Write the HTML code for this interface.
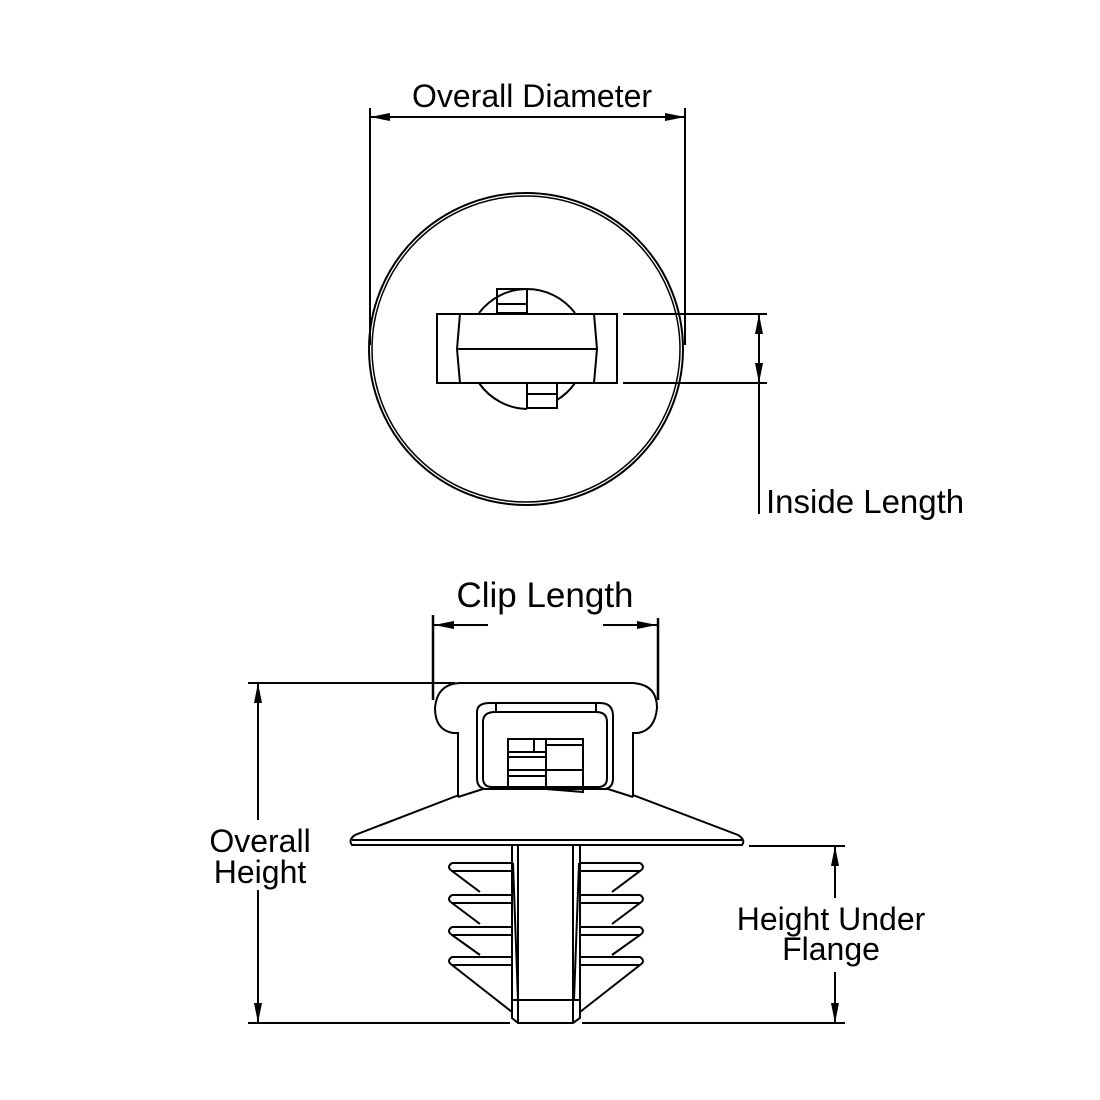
<!DOCTYPE html>
<html><head><meta charset="utf-8"><style>
html,body{margin:0;padding:0;background:#fff;}
svg{display:block;}
text{font-family:"Liberation Sans",sans-serif;fill:#000;}
</style></head><body>
<svg width="1100" height="1100" viewBox="0 0 1100 1100" xmlns="http://www.w3.org/2000/svg">
<defs>
<marker id="a" viewBox="0 0 20 8" refX="20" refY="4" markerWidth="20" markerHeight="8" markerUnits="userSpaceOnUse" orient="auto-start-reverse">
<path d="M0,0 L20,4 L0,8 Z" fill="#000"/>
</marker>
</defs>
<g fill="none" stroke="#000" stroke-width="2">
<line x1="370" y1="108" x2="370" y2="345"/>
<line x1="685" y1="108" x2="685" y2="345"/>
<line x1="370" y1="117" x2="685" y2="117" marker-start="url(#a)" marker-end="url(#a)"/>
<ellipse cx="526" cy="349" rx="157" ry="156"/>
<ellipse cx="526" cy="349" rx="154" ry="153" stroke-width="1.5"/>
<path d="M479,313 A60,60 0 0 1 527,289"/>
<path d="M575,313 A60,60 0 0 0 527,289"/>
<path d="M479,383 A60,60 0 0 0 527,409"/>
<path d="M575,383 A60,60 0 0 1 557,400"/>
<rect x="497" y="289" width="30" height="24"/>
<line x1="497" y1="304" x2="527" y2="304"/>
<rect x="527" y="383" width="30" height="25"/>
<line x1="527" y1="394" x2="557" y2="394"/>
<rect x="437" y="314" width="180" height="69" fill="#fff"/>
<path d="M460,314 L457,349 L460,383 M594,314 L597,349 L594,383 M457,349 L597,349"/>
<line x1="623" y1="314" x2="767" y2="314"/>
<line x1="623" y1="383" x2="767" y2="383"/>
<line x1="759" y1="314" x2="759" y2="383" marker-start="url(#a)" marker-end="url(#a)"/>
<line x1="759" y1="383" x2="759" y2="514"/>

<line x1="433" y1="615" x2="433" y2="700" stroke-width="2.5"/>
<line x1="658" y1="618" x2="658" y2="700" stroke-width="2.5"/>
<line x1="488" y1="625" x2="434" y2="625" marker-end="url(#a)"/>
<line x1="603" y1="625" x2="657" y2="625" marker-end="url(#a)"/>
<line x1="248" y1="683" x2="455" y2="683"/>
<line x1="248" y1="1023" x2="510" y2="1023"/>
<line x1="582" y1="1023" x2="845" y2="1023"/>
<line x1="258" y1="683" x2="258" y2="820" marker-start="url(#a)"/>
<line x1="258" y1="890" x2="258" y2="1023" marker-end="url(#a)"/>
<line x1="749" y1="846" x2="845" y2="846"/>
<line x1="835" y1="846" x2="835" y2="898" marker-start="url(#a)"/>
<line x1="835" y1="972" x2="835" y2="1023" marker-end="url(#a)"/>

<path d="M458,797 L458,733 L453,733 Q435,730 435,708 Q437,684 460,683 L632,683 Q657,684 657,708 Q655,730 638,733 L633,733 L633,797"/>
<path d="M477,712 Q477,703 490,703 L600,703 Q613,703 613,716 L613,778 Q613,789 603,789 L487,789 Q477,789 477,778 Z"/>
<path d="M483,722 Q483,712 495,712 L596,712 Q607,712 607,722 L607,778 Q607,787 598,787 L492,787 Q483,787 483,778 Z"/>
<line x1="496" y1="703" x2="496" y2="712"/><line x1="596" y1="703" x2="596" y2="712"/>
<path d="M508,789 L508,739 L583,739 L583,792 L546,789 M546,739 L546,789 M534,739 L534,752 M508,752 L546,752 M508,757 L546,757 M508,770 L546,770 M508,776 L546,776 M546,745 L583,745 M546,770 L583,770"/>
<path d="M458,797 L483,789 L608,789 L633,797"/>
<path d="M459,795 L355,835 Q348,840 352,845 L742,845 Q746,840 738,835 L633,795"/>
<line x1="352" y1="840" x2="742" y2="840"/>
<path d="M512,845 L512,1000 M580,845 L580,1000 M518,845 L518,1023 M573,845 L573,1023"/>
<path d="M512,1000 L512,1018 L518,1023 L573,1023 L580,1018 L580,1000 Z"/>
<g>
<path d="M513,863 L452,863 Q446,867 452,871 L513,871"/>
<path d="M452,871 L480,892"/>
<path d="M513,895 L452,895 Q446,899 452,903 L513,903"/>
<path d="M452,903 L480,924"/>
<path d="M513,927 L452,927 Q446,931 452,935 L513,935"/>
<path d="M452,935 L480,955"/>
<path d="M513,957 L452,957 Q446,961 452,965 L513,965"/>
<path d="M452,965 L512,1012"/>
<path d="M513,863 L518,1000"/>
</g>
<g transform="translate(1092,0) scale(-1,1)">
<path d="M513,863 L452,863 Q446,867 452,871 L513,871"/>
<path d="M452,871 L480,892"/>
<path d="M513,895 L452,895 Q446,899 452,903 L513,903"/>
<path d="M452,903 L480,924"/>
<path d="M513,927 L452,927 Q446,931 452,935 L513,935"/>
<path d="M452,935 L480,955"/>
<path d="M513,957 L452,957 Q446,961 452,965 L513,965"/>
<path d="M452,965 L512,1012"/>
<path d="M513,863 L518,1000"/>
</g>
</g>
<text x="532" y="107" font-size="32" text-anchor="middle">Overall Diameter</text>
<text x="766" y="513" font-size="33">Inside Length</text>
<text x="545" y="607" font-size="35" text-anchor="middle">Clip Length</text>
<text x="260" y="852" font-size="32" text-anchor="middle">Overall</text>
<text x="260" y="883" font-size="32" text-anchor="middle">Height</text>
<text x="831" y="930" font-size="32" text-anchor="middle">Height Under</text>
<text x="831" y="960" font-size="32" text-anchor="middle">Flange</text>
</svg>
</body></html>
